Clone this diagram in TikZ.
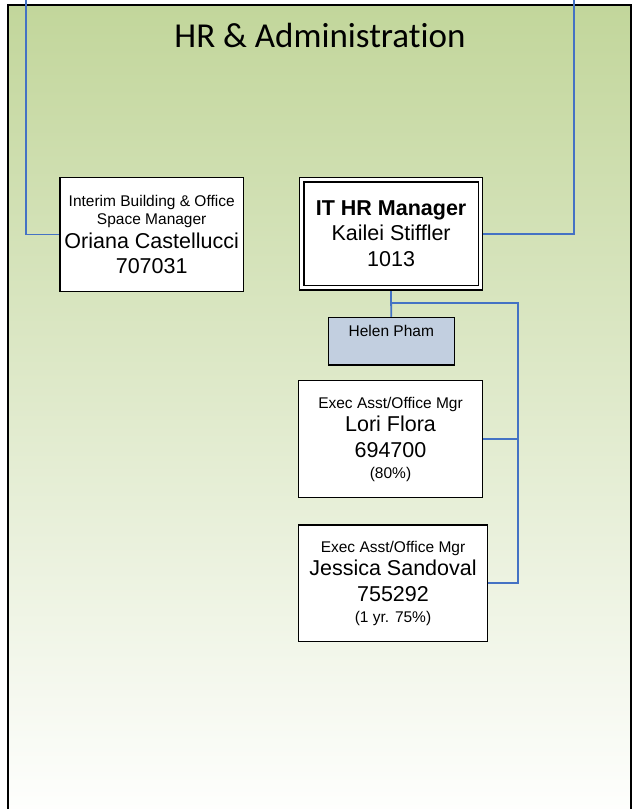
\documentclass[tikz,border=0pt]{standalone}
\usepackage{fontspec}
\setmainfont{Liberation Sans}
\newfontfamily\boxfont{Liberation Sans}
\newfontfamily\titlefont[Ligatures=NoCommon]{Carlito}
\usetikzlibrary{backgrounds}

\definecolor{panelgreen}{RGB}{194,214,155}
\definecolor{linkblue}{RGB}{68,114,196}
\definecolor{asstblue}{RGB}{194,207,224}

\newcommand\smline[1]{{\boxfont\fontsize{15.5}{22}\selectfont #1}}
\newcommand\bigline[1]{{\boxfont\fontsize{21.5}{22}\selectfont #1}}
\newcommand\headline[1]{{\normalfont\bfseries\fontsize{21.5}{22}\selectfont #1}}

\tikzset{
  orgbox/.style={draw=black, line width=1.2pt, fill=white, inner sep=0pt,
    align=center, font=\boxfont\fontsize{15.5}{22}\selectfont},
  link/.style={draw=linkblue, line width=1.8pt},
}

\begin{document}
\begin{tikzpicture}[x=1pt, y=-1pt]

  \useasboundingbox (0,0) rectangle (633,809);

  \node[font=\titlefont\fontsize{35}{40}\selectfont, anchor=base] (title) at (320,47) {HR \& Administration};

  \node[orgbox, minimum width=183.3pt, minimum height=114.4pt] (oriana) at (151.7,234.5)
    {\smline{Interim Building \& Office}\\[-4pt] \smline{Space Manager}\\[1.5pt]
     \bigline{Oriana Castellucci}\\[3.5pt] \bigline{707031}};
  \node[orgbox, double, double distance=3.2pt, line width=1.3pt,
    minimum width=178.7pt, minimum height=108.1pt] (ithr) at (391.1,233.8)
    {\headline{IT HR Manager}\\[3pt] \bigline{Kailei Stiffler}\\[4pt] \bigline{1013}};
  \node[orgbox, fill=asstblue, minimum width=126pt, text height=19.4pt, text depth=28.3pt]
    (helen) at (391.3,341.2) {\smline{Helen Pham}};
  \node[orgbox, minimum width=184.4pt, minimum height=117pt] (lori) at (390.5,439.2)
    {\smline{Exec Asst/Office Mgr}\\[1.5pt] \bigline{Lori Flora}\\[4pt]
     \bigline{694700}\\[-1.5pt] \smline{(80\%)}};
  \node[orgbox, minimum width=189.4pt, minimum height=116.7pt] (jessica) at (393,583.3)
    {\smline{Exec Asst/Office Mgr}\\[1.5pt] \bigline{Jessica Sandoval}\\[4pt]
     \bigline{755292}\\[-1.5pt] \smline{(1 yr. 75\%)}};

  \coordinate (topL) at (26,0);
  \coordinate (topR) at (574,0);
  \coordinate (bus) at (517.7,302.7);

  \begin{scope}[on background layer]
    %% panel
    \shade[top color=panelgreen, bottom color=white] (8,5) rectangle (630.5,825);
    \draw[line width=2pt] (8,850) -- (8,5) -- (630.5,5) -- (630.5,850);

    \draw[link] (topL) |- (oriana.west); % up to the left
    \draw[link] (topR) |- (ithr.east); % up to the right
    \draw[link] (ithr.south) |- (bus) -- (bus |- jessica.east) -- (jessica.east); %% bus
    \draw[link] (ithr.south |- bus) -- (helen.north); %% ithr->helen
    \draw[link] (bus |- lori.east) -- (lori.east); %% bus->lori
  \end{scope}

\end{tikzpicture}
\end{document}
